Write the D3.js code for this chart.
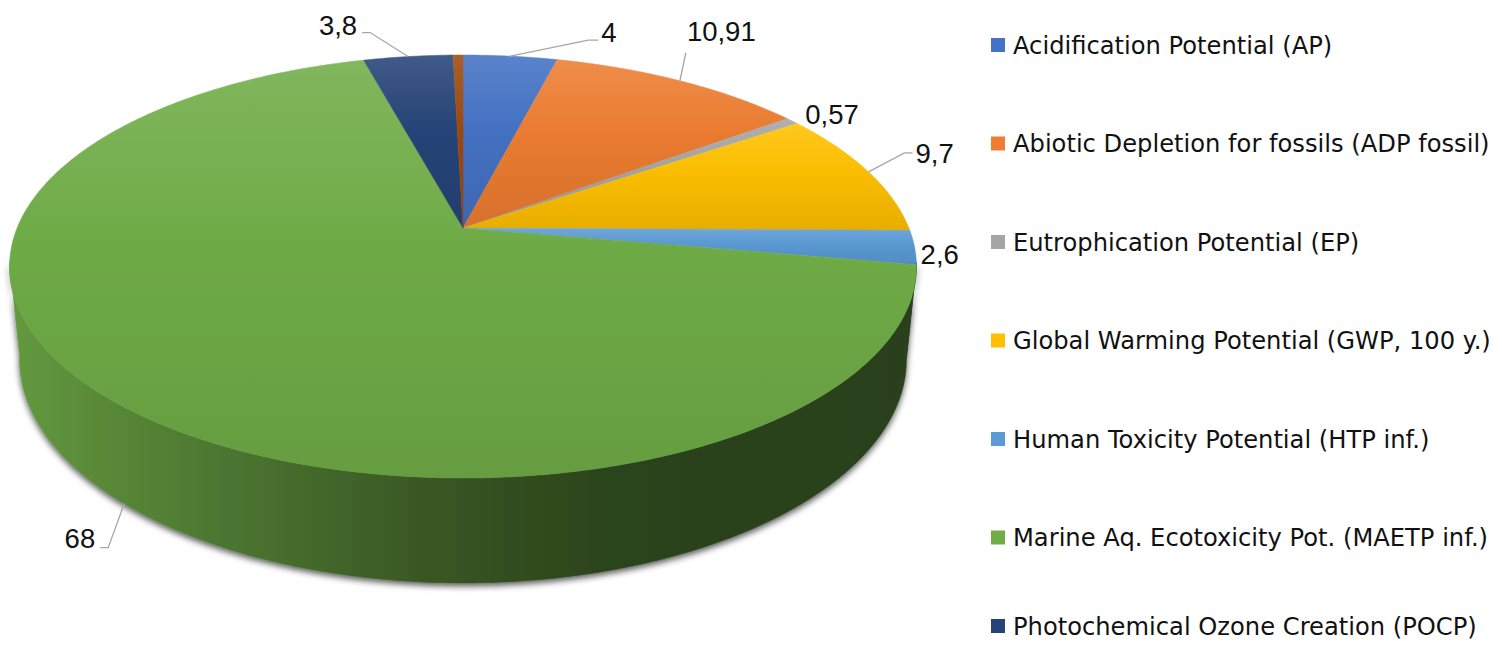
<!DOCTYPE html>
<html>
<head>
<meta charset="utf-8">
<script src="https://cdn.jsdelivr.net/npm/d3@7"></script>
<style>
  html, body { margin: 0; padding: 0; background: #fff; }
  svg { display: block; }
</style>
</head>
<body>
<svg id="chart" width="1502" height="648"></svg>
<script>
// Impact categories (the last, unnamed share has no legend entry or label)
const categories = [
  "Acidification Potential (AP)",
  "Abiotic Depletion for fossils (ADP fossil)",
  "Eutrophication Potential (EP)",
  "Global Warming Potential (GWP, 100 y.)",
  "Human Toxicity Potential (HTP inf.)",
  "Marine Aq. Ecotoxicity Pot. (MAETP inf.)",
  "Photochemical Ozone Creation (POCP)",
  ""
];
const values = [4, 10.91, 0.57, 9.7, 2.6, 68, 3.8, 0.42];

// Slice palette
const palette = ["#4472C4", "#ED7D31", "#A5A5A5", "#FFC000", "#5B9BD5", "#70AD47", "#264478", "#9E480E"];

// Label placement relative to each slice's anchor on the rim:
// text offset, text alignment, and leader polyline points (null = no leader)
const labelLayout = [
  { dx: 91,  dy: -14, align: "start", leader: [[78, -16], [88, -16]] },
  { dx: 7,   dy: -40, align: "start", leader: [[6, -28]] },
  { dx: 13,  dy: 3,   align: "start", leader: null },
  { dx: 47,  dy: -9,  align: "start", leader: [[36, -19], [44, -19]] },
  { dx: 6,   dy: 17,  align: "start", leader: null },
  { dx: -29, dy: 44,  align: "end",   leader: [[-16, 44], [-24, 44]] },
  { dx: -51, dy: -22, align: "end",   leader: [[-38, -24], [-46, -24]] },
  null
];

const W = 1502, H = 648;
const svg = d3.select("#chart");
svg.append("rect").attr("width", W).attr("height", H).attr("fill", "#fff");
const defs = svg.append("defs");

// Perspective projection of the pie disk: u to the right, v away from viewer,
// w vertical (0 = top face, -1 = bottom face)
const cam = { cx: 463, a: 445.9, d: -163, e: 228, g: 0.182, k: -98.7, m: -0.022 };
function proj(u, v, w) {
  const q = 1 + cam.g * v + cam.m * w;
  return [cam.cx + cam.a * u / q, (cam.d * v + cam.k * w + cam.e) / q];
}
function rim(angle, w, r = 1) {
  return proj(r * Math.sin(angle), r * Math.cos(angle), w);
}

const pie = d3.pie().sort(null).value(d => d).startAngle(0).endAngle(2 * Math.PI);
const arcs = pie(values);

const line = d3.line();
function arcPoints(a0, a1, w) {
  const n = Math.max(2, Math.ceil((a1 - a0) / 0.01));
  return d3.range(n + 1).map(i => rim(a0 + (a1 - a0) * i / n, w));
}

// Visible front range of the outer wall (silhouette tangents)
const aRight = Math.PI / 2 + Math.asin(cam.g);
const aLeft = 3 * Math.PI / 2 - Math.asin(cam.g);

// Drop shadow under the pie body
const f = defs.append("filter").attr("id", "shadow")
  .attr("x", "-10%").attr("y", "-10%").attr("width", "120%").attr("height", "130%");
f.append("feDropShadow").attr("dx", 0).attr("dy", 3).attr("stdDeviation", 3.2)
  .attr("flood-color", "#000").attr("flood-opacity", 0.65);

// Gradients
arcs.forEach((d, i) => {
  const c = palette[i];
  const g = defs.append("linearGradient").attr("id", "top" + i)
    .attr("x1", 0).attr("y1", 0).attr("x2", 0).attr("y2", 1);
  g.append("stop").attr("offset", 0).attr("stop-color", d3.interpolateRgb(c, "#fff")(0.12));
  g.append("stop").attr("offset", 0.45).attr("stop-color", d3.color(c).darker(0.05));
  g.append("stop").attr("offset", 1).attr("stop-color", d3.color(c).darker(0.28));

  const s = defs.append("linearGradient").attr("id", "side" + i)
    .attr("gradientUnits", "userSpaceOnUse")
    .attr("x1", 10).attr("y1", 0).attr("x2", 920).attr("y2", 0);
  [[0, 0.35], [0.15, 0.8], [0.3, 1.3], [0.45, 1.9], [0.65, 2.6], [1, 2.75]].forEach(([o, k]) => {
    s.append("stop").attr("offset", o).attr("stop-color", d3.color(c).darker(k));
  });
});

// Outer wall
const sideG = svg.append("g").attr("filter", "url(#shadow)");
arcs.forEach((d, i) => {
  const a0 = Math.max(d.startAngle, aRight - 0.02);
  const a1 = Math.min(d.endAngle, aLeft + 0.02);
  if (a1 <= a0) return;
  const pts = arcPoints(a0, a1, 0).concat(arcPoints(a0, a1, -1).reverse());
  sideG.append("path").attr("d", line(pts) + "Z")
    .attr("fill", `url(#side${i})`).attr("stroke", `url(#side${i})`).attr("stroke-width", 0.6);
});

// Top face
const topG = svg.append("g");
const center = proj(0, 0, 0);
arcs.forEach((d, i) => {
  const pts = [center].concat(arcPoints(d.startAngle, d.endAngle, 0));
  topG.append("path").attr("d", line(pts) + "Z")
    .attr("fill", `url(#top${i})`).attr("stroke", `url(#top${i})`).attr("stroke-width", 0.5)
    .attr("stroke-linejoin", "round");
});

// Data labels
const fmt = d3.formatLocale({ decimal: ",", thousands: ".", grouping: [3], currency: ["", ""] }).format("~f");
const labelG = svg.append("g");
arcs.forEach((d, i) => {
  const L = labelLayout[i];
  if (!L) return;
  const mid = (d.startAngle + d.endAngle) / 2;
  // front-facing slices anchor on the lower rim
  const w = Math.cos(mid) < -0.3 ? -1 : 0;
  const [ax, ay] = rim(mid, w);
  if (L.leader) {
    const pts = [[ax, ay]].concat(L.leader.map(([x, y]) => [ax + x, ay + y]));
    labelG.append("path").attr("d", line(pts)).attr("fill", "none")
      .attr("stroke", "#A6A6A6").attr("stroke-width", 1.3);
  }
  labelG.append("text")
    .attr("x", ax + L.dx).attr("y", ay + L.dy)
    .attr("text-anchor", L.align)
    .attr("font-family", "'Liberation Sans', Arial, sans-serif")
    .attr("font-size", 27.5).attr("fill", "#111")
    .text(fmt(values[i]));
});

// Legend
const legendItems = categories.map((c, i) => ({ name: c, color: palette[i] })).filter(d => d.name);
const legend = svg.append("g");
legendItems.forEach((d, i) => {
  const y = Math.min(45 + i * 98.5, H - 22);
  legend.append("rect").attr("x", 991).attr("y", y - 7).attr("width", 14).attr("height", 14)
    .attr("fill", d.color);
  legend.append("text").attr("x", 1013).attr("y", y).attr("dy", "0.36em")
    .attr("font-family", "'DejaVu Sans', sans-serif").attr("font-size", 24.2).attr("fill", "#111")
    .text(d.name);
});
</script>
</body>
</html>
